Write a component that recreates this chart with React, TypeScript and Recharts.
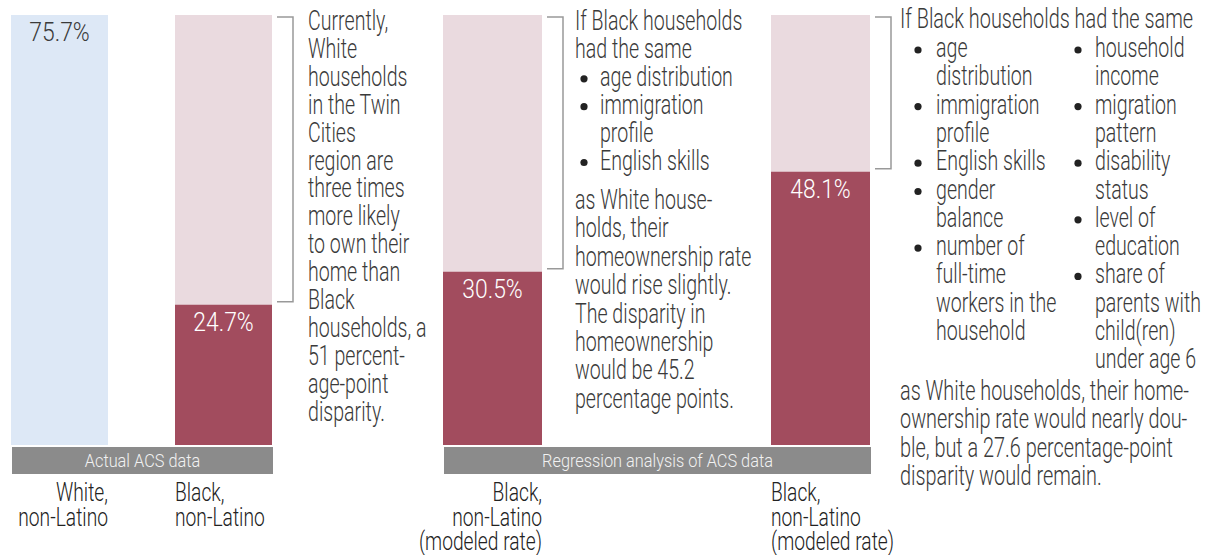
import React from "react";
import { BarChart, Bar, XAxis, YAxis, LabelList } from "recharts";

// data
const categories = [
  "White, non-Latino",
  "Black, non-Latino",
  "Black, non-Latino (modeled rate)",
  "Black, non-Latino (modeled rate)",
];
const categoryLines = [
  ["White,", "non-Latino"],
  ["Black,", "non-Latino"],
  ["Black,", "non-Latino", "(modeled rate)"],
  ["Black,", "non-Latino", "(modeled rate)"],
];
const rates = [75.7, 24.7, 30.5, 48.1];
const groups = ["Actual ACS data", "Regression analysis of ACS data"];
const groupMembers = [
  [0, 1],
  [2, 3],
];

const note1 = [
  "Currently,",
  "White",
  "households",
  "in the Twin",
  "Cities",
  "region are",
  "three times",
  "more likely",
  "to own their",
  "home than",
  "Black",
  "households, a",
  "51 percent-",
  "age-point",
  "disparity.",
];
const note2Head = ["If Black households", "had the same"];
const note2Bullets = [["age distribution"], ["immigration", "profile"], ["English skills"]];
const note2Tail = [
  "as White house-",
  "holds, their",
  "homeownership rate",
  "would rise slightly.",
  "The disparity in",
  "homeownership",
  "would be 45.2",
  "percentage points.",
];
const note3Head = "If Black households had the same";
const note3Left = [
  ["age", "distribution"],
  ["immigration", "profile"],
  ["English skills"],
  ["gender", "balance"],
  ["number of", "full-time", "workers in the", "household"],
];
const note3Right = [
  ["household", "income"],
  ["migration", "pattern"],
  ["disability", "status"],
  ["level of", "education"],
  ["share of", "parents with", "child(ren)", "under age 6"],
];
const note3Tail = [
  "as White households, their home-",
  "ownership rate would nearly dou-",
  "ble, but a 27.6 percentage-point",
  "disparity would remain.",
];

// layout
const W = 1220;
const H = 555;
const BAR_X = [11, 175, 443, 771];
const BAR_W = [97, 97, 99, 99];
const SIDE = 70;
const PLOT_TOP = 15;
const PLOT_BOTTOM = 445;
const LINE = 27.9;
const LINE3 = 28.3;

const BLUE = "#dde8f6";
const PINK = "#eadadf";
const RED = "#a24c5e";
const GREY = "#8b8b8b";
const TEXT = "#3a3a3a";
const FONT = "Roboto, 'Liberation Sans', sans-serif";

function CondText({ x, y, size = 28, sx = 0.7, anchor = "start", fill = TEXT, children }: any) {
  return (
    <text
      transform={`translate(${x},${y}) scale(${sx},1)`}
      fontSize={size}
      fontFamily={FONT}
      fontWeight={300}
      fill={fill}
      textAnchor={anchor}
    >
      {children}
    </text>
  );
}

function CategoryTick({ x, index, w }: any) {
  const lines = categoryLines[index];
  const rightAlign = index % 2 === 0;
  const tx = rightAlign ? x + w / 2 : x - w / 2;
  return (
    <g>
      {lines.map((l, k) => (
        <CondText key={k} x={tx} y={501 + k * 24.5} size={26} sx={0.74} anchor={rightAlign ? "end" : "start"} fill="#222">
          {l}
        </CondText>
      ))}
    </g>
  );
}

function ValueLabel({ x, y, width, height, value, white }: any) {
  const top = y + height - (height * rates[0]) / value;
  const bx = x + width + 5;
  return (
    <g>
      <CondText x={x + width / 2} y={y + 26} size={26} sx={0.88} anchor="middle" fill={white ? TEXT : "#fff"}>
        {value.toFixed(1)}%
      </CondText>
      {!white && (
        <path
          d={`M${bx},${top + 2} H${bx + 16} V${y - 3} H${bx}`}
          fill="none"
          stroke="#999"
          strokeWidth={1.5}
        />
      )}
    </g>
  );
}

function SingleBar({ index }: { index: number }) {
  const w = BAR_W[index];
  const white = index === 0;
  const data = [{ name: categories[index], rate: rates[index] }];
  return (
    <div style={{ position: "absolute", left: BAR_X[index] - SIDE, top: 0 }}>
      <BarChart
        width={w + 2 * SIDE}
        height={H}
        data={data}
        margin={{ top: PLOT_TOP, right: SIDE, left: SIDE, bottom: 0 }}
        barCategoryGap={0}
      >
        <XAxis
          dataKey="name"
          height={H - PLOT_BOTTOM}
          axisLine={false}
          tickLine={false}
          interval={0}
          tick={(p: any) => <CategoryTick {...p} index={index} w={w} />}
        />
        <YAxis hide domain={[0, rates[0]]} />
        <Bar
          dataKey="rate"
          fill={white ? BLUE : RED}
          {...(white ? {} : { background: { fill: PINK } })}
          isAnimationActive={false}
        >
          <LabelList dataKey="rate" content={(p: any) => <ValueLabel {...p} white={white} />} />
        </Bar>
      </BarChart>
    </div>
  );
}

function Bullet({ x, y }: any) {
  return <circle cx={x} cy={y - 7} r={3.6} fill="#222" />;
}

function stackRows(items: string[][], first: number) {
  let row = first;
  return items.map((lines) => {
    const out = { start: row, lines };
    row += lines.length;
    return out;
  });
}

function Notes() {
  const leftRows = stackRows(note3Left, 0);
  const rightRows = stackRows(note3Right, 0);
  const n2 = stackRows(note2Bullets, 2);

  return (
    <svg width={W} height={H} style={{ position: "absolute", left: 0, top: 0 }}>
      {groups.map((g, gi) => {
        const a = groupMembers[gi][0];
        const b = groupMembers[gi][1];
        const x0 = BAR_X[a] + 1;
        const x1 = BAR_X[b] + BAR_W[b] + 1;
        return (
          <g key={g}>
            <rect x={x0} y={PLOT_BOTTOM + 2} width={x1 - x0} height={27} fill={GREY} />
            <CondText x={(x0 + x1) / 2} y={PLOT_BOTTOM + 22} size={19} sx={0.86} anchor="middle" fill="#f2f2f2">
              {g}
            </CondText>
          </g>
        );
      })}

      {note1.map((l, i) => (
        <CondText key={i} x={308} y={30 + i * LINE}>
          {l}
        </CondText>
      ))}

      {note2Head.map((l, i) => (
        <CondText key={i} x={575} y={30 + i * LINE}>
          {l}
        </CondText>
      ))}
      {n2.map((b, bi) => (
        <g key={bi}>
          <Bullet x={584} y={30 + b.start * LINE} />
          {b.lines.map((l: string, k: number) => (
            <CondText key={k} x={600} y={30 + (b.start + k) * LINE}>
              {l}
            </CondText>
          ))}
        </g>
      ))}
      {note2Tail.map((l, i) => (
        <CondText key={i} x={575} y={209 + i * 28.4}>
          {l}
        </CondText>
      ))}

      <CondText x={900} y={28} sx={0.71}>
        {note3Head}
      </CondText>
      {leftRows.map((b, bi) => (
        <g key={bi}>
          <Bullet x={918} y={57 + b.start * LINE3} />
          {b.lines.map((l: string, k: number) => (
            <CondText key={k} x={936} y={57 + (b.start + k) * LINE3}>
              {l}
            </CondText>
          ))}
        </g>
      ))}
      {rightRows.map((b, bi) => (
        <g key={bi}>
          <Bullet x={1078} y={57 + b.start * LINE3} />
          {b.lines.map((l: string, k: number) => (
            <CondText key={k} x={1095} y={57 + (b.start + k) * LINE3}>
              {l}
            </CondText>
          ))}
        </g>
      ))}
      {note3Tail.map((l, i) => (
        <CondText key={i} x={900} y={400 + i * 28.3} sx={0.71}>
          {l}
        </CondText>
      ))}
    </svg>
  );
}

export default function App() {
  return (
    <div style={{ position: "absolute", left: 0, top: 0, width: W, height: H, background: "#fff", overflow: "hidden" }}>
      {rates.map((_, i) => (
        <SingleBar key={i} index={i} />
      ))}
      <Notes />
    </div>
  );
}
